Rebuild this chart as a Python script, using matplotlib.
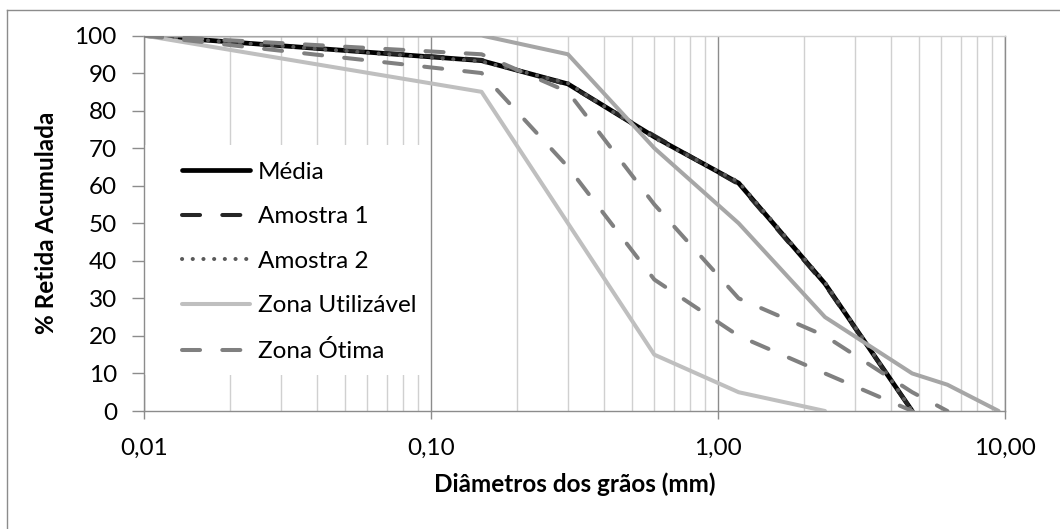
"""
Curva granulométrica do agregado miúdo com limites da NBR 7211.
"""

import matplotlib
matplotlib.use('Agg')
import matplotlib.pyplot as plt
import matplotlib.ticker as mticker
from matplotlib.lines import Line2D
from matplotlib.patches import Rectangle

# === DATA ===
# abertura das peneiras (mm); 0,01 é o fundo
peneiras = [0.01, 0.15, 0.3, 0.6, 1.18, 2.36, 4.75]
media = [100, 93.3, 87.1, 73.0, 60.7, 33.9, 0]
amostra_1 = [100, 93.5, 86.9, 73.3, 60.4, 33.6, 0]
amostra_2 = [100, 93.1, 87.3, 72.7, 61.0, 34.2, 0]

zona_peneiras = [0.01, 0.15, 0.3, 0.6, 1.18, 2.36, 4.75, 6.3, 9.5]
util_inferior = [100, 85, 50, 15, 5, 0]          # até 2,36
util_superior = [100, 100, 95, 70, 50, 25, 10, 7, 0]
otima_inferior = [100, 90, 65, 35, 20, 10, 0]    # até 4,75
otima_superior = [100, 95, 85, 55, 30, 20, 5, 0]  # até 6,3

x_ticks = [0.01, 0.1, 1, 10]
x_tick_labels = ['0,01', '0,10', '1,00', '10,00']
y_ticks = list(range(0, 101, 10))

COLORS = {
    'media': '#000000',
    'amostra1': '#262626',
    'amostra2': '#595959',
    'util_inf': '#BFBFBF',
    'util_sup': '#A6A6A6',
    'otima': '#808080',
    'grid_minor': '#D0D0D0',
    'grid_major': '#8C8C8C',
    'axis': '#8C8C8C',
}

FONT = 'Lato'
FONT_TICK = 17.5
FONT_LABEL = 17.5
LW = 2.9
LONG_DASH = (0, (13, 16))
DOTS = (0, (0.1, 7.6))

plt.rcParams.update({
    'font.family': FONT,
    'font.size': FONT_TICK,
    'lines.scale_dashes': False,
    'figure.dpi': 100,
    'figure.facecolor': 'white',
    'axes.facecolor': 'white',
    'axes.axisbelow': True,
})

fig = plt.figure(figsize=(10.6, 5.29), dpi=100)
ax = fig.add_axes([144 / 1060, 1 - 411 / 529, 861 / 1060, 375.5 / 529])

common = dict(solid_capstyle='round', dash_capstyle='round', zorder=3)

ax.plot(peneiras, media, color=COLORS['media'], lw=LW + 0.5,
        label='Média', **common)
ax.plot(peneiras, amostra_1, color=COLORS['amostra1'], lw=LW,
        linestyle=LONG_DASH, label='Amostra 1', **common)
ax.plot(peneiras, amostra_2, color=COLORS['amostra2'], lw=LW,
        linestyle=DOTS, label='Amostra 2', **common)
ax.plot(zona_peneiras[:len(util_inferior)], util_inferior,
        color=COLORS['util_inf'], lw=LW, label='Zona Utilizável', **common)
ax.plot(zona_peneiras, util_superior, color=COLORS['util_sup'], lw=LW,
        **common)
ax.plot(zona_peneiras[:len(otima_inferior)], otima_inferior,
        color=COLORS['otima'], lw=LW, linestyle=LONG_DASH,
        label='Zona Ótima', **common)
ax.plot(zona_peneiras[:len(otima_superior)], otima_superior,
        color=COLORS['otima'], lw=LW, linestyle=LONG_DASH, **common)

ax.set_xscale('log')
ax.set_xlim(0.01, 10)
ax.set_ylim(0, 100)

ax.xaxis.set_major_locator(mticker.FixedLocator(x_ticks))
ax.xaxis.set_major_formatter(mticker.FixedFormatter(x_tick_labels))
ax.xaxis.set_minor_locator(mticker.LogLocator(base=10, subs=range(2, 10)))
ax.xaxis.set_minor_formatter(mticker.NullFormatter())
ax.set_yticks(y_ticks)

ax.grid(axis='x', which='minor', color=COLORS['grid_minor'], lw=1.0)
ax.grid(axis='x', which='major', color=COLORS['grid_major'], lw=1.0)
ax.grid(axis='y', visible=False)

ax.tick_params(axis='x', which='major', direction='out', length=6,
               width=1, color=COLORS['axis'], pad=13, labelsize=FONT_TICK)
ax.tick_params(axis='x', which='minor', length=0)
ax.tick_params(axis='y', direction='out', length=8.5, width=1,
               color=COLORS['axis'], pad=11, labelsize=FONT_TICK)

for side in ['left', 'bottom', 'right']:
    ax.spines[side].set_color(COLORS['axis'])
    ax.spines[side].set_linewidth(1.0)
ax.spines['top'].set_color(COLORS['grid_minor'])
ax.spines['top'].set_linewidth(1.0)

ax.set_xlabel('Diâmetros dos grãos (mm)', fontsize=FONT_LABEL,
              fontweight='bold', labelpad=10)
ax.set_ylabel('% Retida Acumulada', fontsize=FONT_LABEL,
              fontweight='bold', labelpad=12)

# caixa branca da legenda (cobre a grade)
ax.add_patch(Rectangle((0.0, 0.096), 0.33, 0.612, transform=ax.transAxes,
                       facecolor='white', edgecolor='none', zorder=1))
ax.legend(loc='upper left', bbox_to_anchor=(0.044, 0.664), frameon=False,
          borderpad=0, borderaxespad=0, handlelength=2.8,
          handletextpad=0.32, labelspacing=0.97, fontsize=FONT_TICK)

# moldura externa do gráfico
fig.add_artist(Line2D([6.7 / 1060, 1.0], [1 - 10 / 529, 1 - 10 / 529],
                      transform=fig.transFigure, color='#8C8C8C', lw=1))
fig.add_artist(Line2D([6.7 / 1060, 6.7 / 1060], [0.0, 1 - 10 / 529],
                      transform=fig.transFigure, color='#8C8C8C', lw=1))

fig.savefig('out.png', dpi=100, facecolor='white')
plt.close(fig)
